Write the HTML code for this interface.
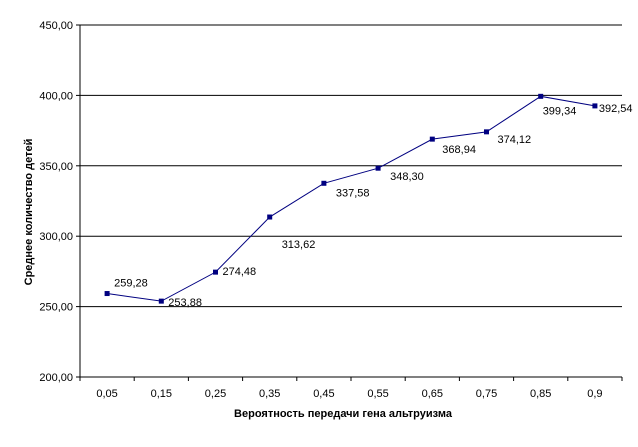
<!DOCTYPE html>
<html><head><meta charset="utf-8"><style>
body{margin:0;background:#fff;}
svg text{font-family:"Liberation Sans",Arial,sans-serif;font-size:11px;fill:#000;}
</style></head><body>
<svg id="chart" width="638" height="442" xmlns="http://www.w3.org/2000/svg"></svg>
<script>
const categories=["0,05","0,15","0,25","0,35","0,45","0,55","0,65","0,75","0,85","0,9"];
const values=[259.28,253.88,274.48,313.62,337.58,348.30,368.94,374.12,399.34,392.54];
const valueLabels=["259,28","253,88","274,48","313,62","337,58","348,30","368,94","374,12","399,34","392,54"];
const yTicks=[200,250,300,350,400,450];
const yTickLabels=["200,00","250,00","300,00","350,00","400,00","450,00"];
const labelDx=[7,7,7,12,12,12,10,11,2,4];
const labelDy=[-11,1,-1,27,9,8,10,7,14,2];
const svg=document.getElementById('chart');
const NS='http://www.w3.org/2000/svg';
const L=80,R=622,T=25,B=377,ymin=200,ymax=450;
const bw=(R-L)/categories.length;
function x(i){return L+bw*(i+0.5);}
function y(v){return B-(v-ymin)/(ymax-ymin)*(B-T);}
function mk(t,a){const e=document.createElementNS(NS,t);for(const k in a)e.setAttribute(k,a[k]);svg.appendChild(e);return e;}
yTicks.forEach((v,i)=>{
  if(v>ymin){const g=mk('line',{x1:L,x2:R,y1:y(v),y2:y(v),stroke:'#000','stroke-width':1});
  
  }
  const tk=mk('line',{x1:L-4,x2:L,y1:y(v),y2:y(v),stroke:'#000'});
  
  
  const t=mk('text',{x:L-7,y:y(v)+4,'text-anchor':'end'});t.textContent=yTickLabels[i];
  
  
});
const ax=mk('line',{x1:L,x2:L,y1:T,y2:B,stroke:'#000'});


const bx=mk('line',{x1:L,x2:R,y1:B,y2:B,stroke:'#000'});


for(let i=0;i<=categories.length;i++){
  const tk=mk('line',{x1:L+bw*i,x2:L+bw*i,y1:B,y2:B+4,stroke:'#000'});
  
  
}
categories.forEach((c,i)=>{
  const t=mk('text',{x:x(i),y:B+20,'text-anchor':'middle'});t.textContent=c;
  
  
});
const pl=mk('polyline',{points:values.map((v,i)=>x(i)+','+y(v)).join(' '),fill:'none',stroke:'#000080','stroke-width':1});


values.forEach((v,i)=>{
  const p=mk('rect',{x:x(i)-2.5,y:y(v)-2.5,width:5,height:5,fill:'#000080'});
  
  
  const t=mk('text',{x:x(i)+labelDx[i],y:y(v)+labelDy[i]+4});t.textContent=valueLabels[i];
  
  
});
const xt=mk('text',{x:343,y:417,'text-anchor':'middle','font-weight':'bold'});xt.textContent='Вероятность передачи гена альтруизма';


const yt=mk('text',{x:0,y:0,'text-anchor':'middle','font-weight':'bold',transform:'translate(32,212) rotate(-90)'});yt.textContent='Среднее количество детей';


</script>
</body></html>
